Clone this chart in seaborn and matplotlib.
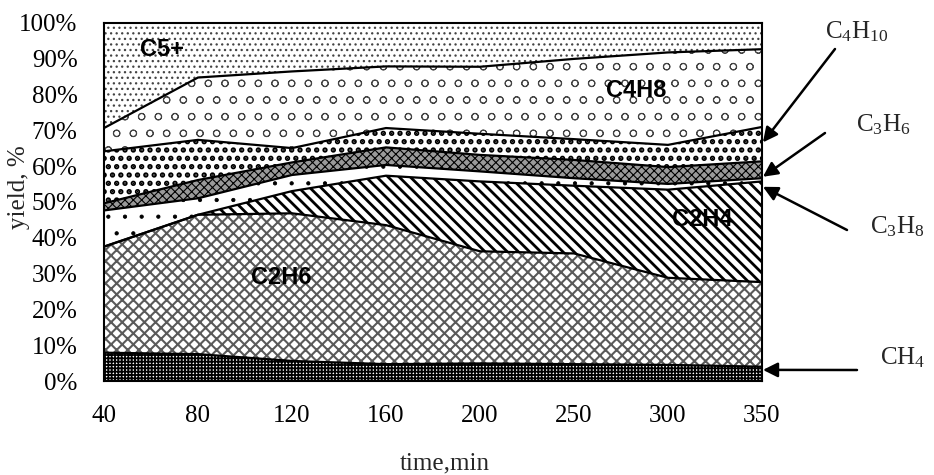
import numpy as np
import pandas as pd
import matplotlib
matplotlib.use('Agg')
import matplotlib.pyplot as plt
import seaborn as sns

# ---- data (percent of total yield) ----
times = ['40', '80', '120', '160', '200', '250', '300', '350']
ch4 = [7.9, 7.5, 5.6, 4.7, 4.9, 4.7, 4.5, 4.0]
c2h6 = [29.6, 38.9, 41.2, 38.8, 31.3, 30.9, 24.3, 23.6]
c2h4 = [0.0, 0.0, 6.2, 13.8, 19.5, 18.9, 24.6, 28.1]
c3h8 = [10.1, 4.6, 4.5, 3.0, 2.8, 2.1, 1.6, 0.9]
c3h6 = [2.0, 5.1, 3.5, 4.9, 4.6, 5.1, 4.7, 4.7]
c4h10 = [14.5, 11.2, 4.0, 5.4, 5.9, 5.8, 6.2, 9.6]
c4h8 = [6.5, 17.4, 21.4, 17.2, 18.7, 22.4, 25.8, 21.7]
c5plus = [29.4, 15.3, 13.6, 12.2, 12.3, 10.1, 8.3, 7.4]
yticks = [0, 10, 20, 30, 40, 50, 60, 70, 80, 90, 100]

series_names = ['CH4', 'C2H6', 'C2H4', 'C3H8', 'C3H6', 'C4H10', 'C4H8', 'C5+']
series_vals = [ch4, c2h6, c2h4, c3h8, c3h6, c4h10, c4h8, c5plus]

# facecolor, hatch colour, hatch, hatch linewidth
styles = {
    'CH4':   ('white', 'black', '+++++', 1.3),
    'C2H6':  ('white', '#5a5a5a', 'xxx', 1.5),
    'C2H4':  ('white', 'black', '\\\\\\', 2.0),
    'C3H8':  ('white', 'black', '.', 0.6),
    'C3H6':  ('#9a9a9a', 'black', 'xxxx', 0.8),
    'C4H10': ('white', 'black', '..', 2.6),
    'C4H8':  ('white', '#444444', 'o', 0.7),
    'C5+':   ('white', '#444444', '...', 0.9),
}

sns.set_theme(style='white')
plt.rcParams['font.family'] = ['Liberation Serif', 'DejaVu Serif']
plt.rcParams['mathtext.fontset'] = 'custom'
plt.rcParams['mathtext.rm'] = 'Liberation Serif'
plt.rcParams['mathtext.default'] = 'regular'

df = pd.DataFrame(dict(zip(series_names, series_vals)))
df = df.div(df.sum(axis=1), axis=0) * 100.0
pos = np.arange(len(times))
cum = df.cumsum(axis=1)

fig = plt.figure(figsize=(9.34, 4.75), dpi=100)
ax = fig.add_axes([104 / 934, 1 - 381 / 475, 658 / 934, 358.3 / 475])

lower = np.zeros(len(times))
for name in series_names:
    upper = cum[name].values
    fc, hc, h, hlw = styles[name]
    with plt.rc_context({'hatch.linewidth': hlw}):
        coll = ax.fill_between(pos, lower, upper, facecolor=fc, edgecolor=hc,
                               hatch=h, linewidth=0, zorder=1)
        if hasattr(coll, 'set_hatch_linewidth'):
            coll.set_hatch_linewidth(hlw)
    lower = upper

# boundary lines via seaborn
long = cum.drop(columns=['C5+']).assign(pos=pos).melt(id_vars='pos', var_name='layer', value_name='top')
sns.lineplot(data=long, x='pos', y='top', hue='layer', units='layer', estimator=None,
             palette={n: 'black' for n in series_names[:-1]}, linewidth=1.6,
             legend=False, ax=ax, zorder=3)

ax.set_xlim(0, len(times) - 1)
ax.set_ylim(0, 100)
ax.set_xticks(pos)
ax.set_xticklabels(times)
ax.set_yticks(yticks)
ax.set_yticklabels([f'{v}%' for v in yticks])
ax.set_xlabel('')
ax.set_ylabel('')
ax.tick_params(axis='both', direction='out', length=6, width=1.2, color='black',
               labelsize=18, labelcolor='black')
ax.tick_params(axis='y', pad=13)
ax.tick_params(axis='x', pad=11)
for sp in ax.spines.values():
    sp.set_visible(True)
    sp.set_color('black')
    sp.set_linewidth(1.5)
    sp.set_zorder(4)

# in-area labels
lab_kw = dict(fontfamily='Liberation Sans', fontweight='bold', fontsize=17,
              ha='center', va='center', color='black', zorder=5)
ax.text(0.62, 92.5, 'C5+', **lab_kw)
ax.text(5.66, 81.0, 'C4H8', **lab_kw)
ax.text(6.36, 45.0, 'C2H4', **lab_kw)
ax.text(1.89, 29.0, 'C2H6', **lab_kw)

# axis titles
fig.text(19 / 934, 1 - 187 / 475, 'yield, %', rotation=90, ha='center', va='center', fontsize=18)
fig.text(445 / 934, 1 - 463 / 475, 'time,min', ha='center', va='center', fontsize=18)

# right-side callouts
def fp(x, y):
    return (x / 934, 1 - y / 475)

callouts = [
    ('C$_4$H$_{10}$', (857, 32), (835, 49), 66.6),
    ('C$_3$H$_6$', (883, 125), (825, 133), 57.0),
    ('C$_3$H$_8$', (897, 227), (847, 230), 54.2),
    ('CH$_4$', (903, 358), (857, 370), 3.1),
]
for txt, tpos, tail, ytip in callouts:
    fig.text(*fp(*tpos), txt, ha='center', va='center', fontsize=18)
    ax.annotate('', xy=(len(times) - 1 + 0.01, ytip), xycoords='data',
                xytext=fp(*tail), textcoords='figure fraction',
                arrowprops=dict(arrowstyle='-|>', color='black', lw=1.8,
                                mutation_scale=22, shrinkA=0, shrinkB=0),
                annotation_clip=False, zorder=6)

fig.savefig('out.png', dpi=100)
